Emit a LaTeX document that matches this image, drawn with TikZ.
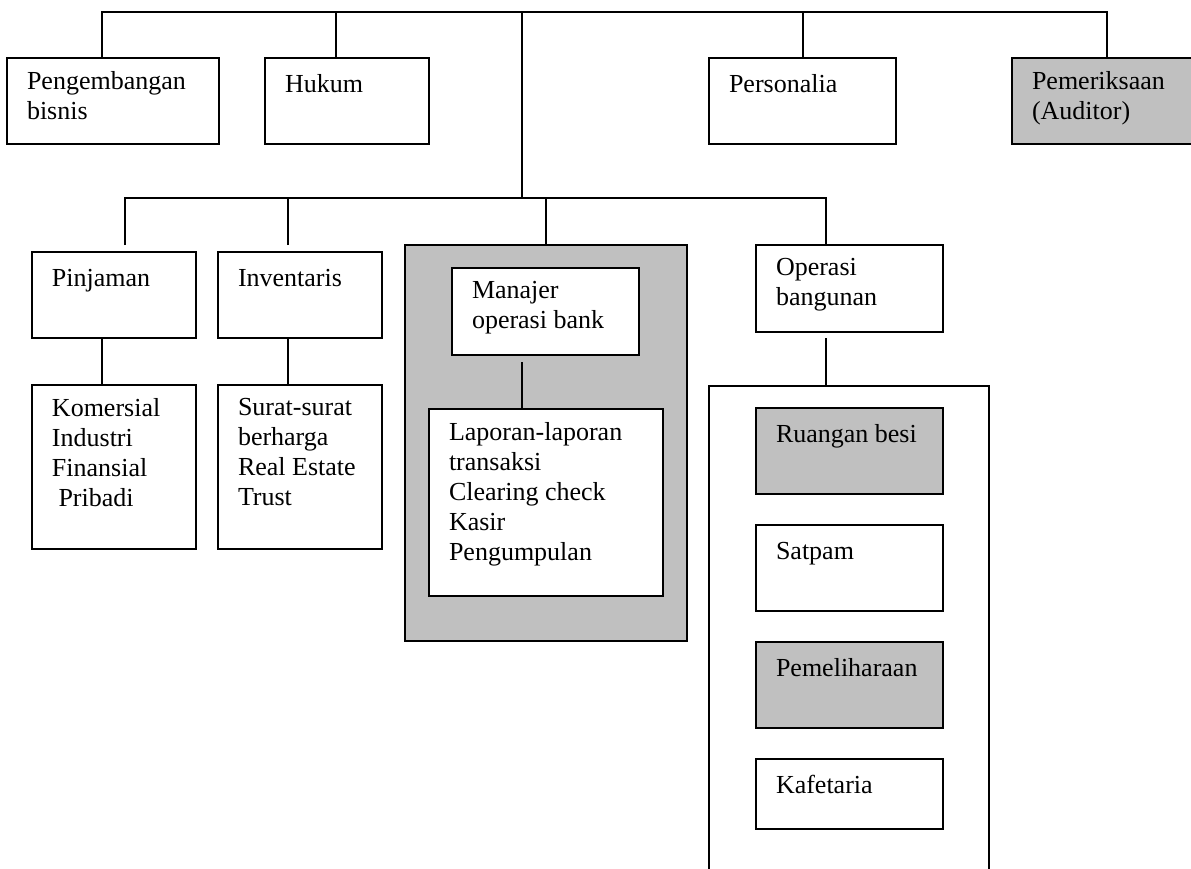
\documentclass[tikz,border=0pt]{standalone}
\usepackage{fontspec}
\setmainfont{Liberation Serif}
\usetikzlibrary{fit}
\definecolor{boxgray}{HTML}{C0C0C0}
\tikzset{
  unit/.style={draw, line width=1pt, fill=white, inner sep=0pt, outer sep=0pt},
  grayunit/.style={unit, fill=boxgray},
  lbl/.style={anchor=north west, inner sep=0pt, outer sep=0pt, align=left,
    font=\fontsize{13}{15}\selectfont, execute at begin node=\strut},
  link/.style={line width=1pt},
}
% #1 style, #2 name, #3 top-left corner, #4 bottom-right corner, #5 text
\newcommand\orgunit[5]{%
  \node[#1, fit={#3 #4}] (#2) {};
  \node[lbl] (#2-text) at ([shift={(20,13)}]#2.north west) {#5};
}
\begin{document}
\begin{tikzpicture}[x=0.5pt, y=-0.5pt]
  \clip (0,0) rectangle (1191,869);
  \fill[white] (0,0) rectangle (1191,869);

  % staff units below the top bus
  \orgunit{unit}{pb}{(7,58)}{(219,144)}{Pengembangan\\bisnis}
  \orgunit{unit}{hk}{(265,58)}{(429,144)}{Hukum}
  \orgunit{unit}{pers}{(709,58)}{(896,144)}{Personalia}
  \orgunit{grayunit}{aud}{(1012,58)}{(1201,144)}{Pemeriksaan\\(Auditor)}

  % line units
  \orgunit{unit}{pinj}{(32,252)}{(196,338)}{Pinjaman}
  \orgunit{unit}{inv}{(218,252)}{(382,338)}{Inventaris}
  \orgunit{unit}{kom}{(32,385)}{(196,549)}{Komersial\\Industri\\Finansial\\\ Pribadi}
  \orgunit{unit}{sur}{(218,385)}{(382,549)}{Surat-surat\\berharga\\Real Estate\\Trust}

  % bank operations group
  \node[grayunit, fit={(405,245) (687,641)}] (bank) {};
  \orgunit{unit}{mgr}{(452,268)}{(639,355)}{Manajer\\operasi bank}
  \orgunit{unit}{lap}{(429,409)}{(663,596)}{Laporan-laporan\\transaksi\\Clearing check\\Kasir\\Pengumpulan}

  % building operations group
  \orgunit{unit}{opb}{(756,245)}{(943,332)}{Operasi\\bangunan}
  \coordinate (bldg-nw) at (709,386);
  \coordinate (bldg-ne) at (989,386);
  \draw[link] (bldg-nw) ++(0,500) -- (bldg-nw) -- (bldg-ne) -- ++(0,500);
  \orgunit{grayunit}{ruang}{(756,408)}{(943,494)}{Ruangan besi}
  \orgunit{unit}{satpam}{(756,525)}{(943,611)}{Satpam}
  \orgunit{grayunit}{pemel}{(756,642)}{(943,728)}{Pemeliharaan}
  \orgunit{unit}{kafe}{(756,759)}{(943,829)}{Kafetaria}

  % top bus
  \coordinate (root) at (522,12);
  \coordinate (hub) at (522,198);
  \draw[link] ([shift={(95,0)}]pb.north west) |- (root);
  \draw[link] ([shift={(95,0)}]aud.north west) |- (root);
  \draw[link] ([shift={(71,0)}]hk.north west) -- ++(0,-46);
  \draw[link] (pers.north) -- ++(0,-46);
  \draw[link] (root) -- (hub);

  % second bus
  \draw[link] ([shift={(93,-7)}]pinj.north west) |- (hub);
  \draw[link] ([shift={(70,-7)}]inv.north west) -- ++(0,-47);
  \draw[link] (bank.north) -- ++(0,-47);
  \draw[link] ([shift={(70,0)}]opb.north west) |- (hub);

  % lower links
  \draw[link] ([shift={(70,0)}]pinj.south west) -- ([shift={(70,0)}]kom.north west);
  \draw[link] ([shift={(70,0)}]inv.south west) -- ([shift={(70,0)}]sur.north west);
  \draw[link] ([shift={(70,7)}]mgr.south west) -- ([shift={(93,0)}]lap.north west);
  \draw[link] ([shift={(70,6)}]opb.south west) -- ([shift={(117,0)}]bldg-nw);
\end{tikzpicture}
\end{document}
